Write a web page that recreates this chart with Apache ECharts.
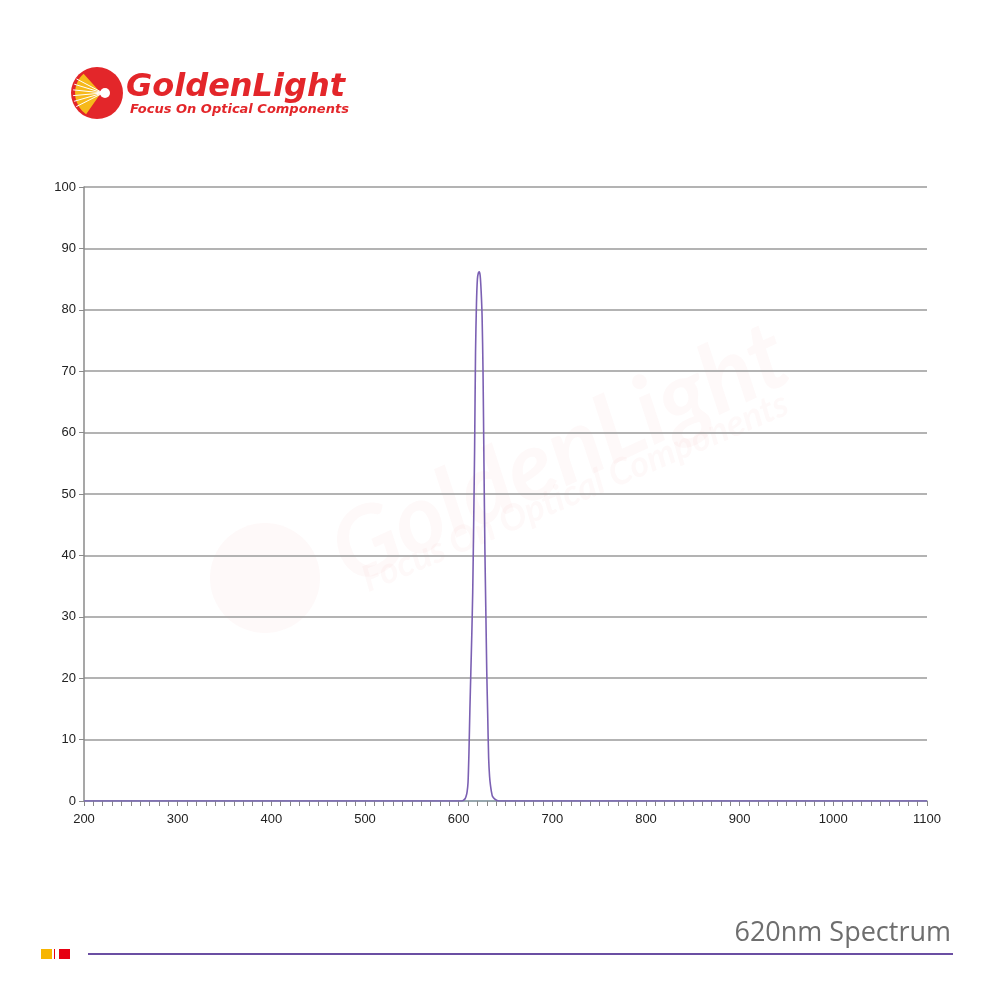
<!DOCTYPE html>
<html>
<head>
<meta charset="utf-8">
<script src="https://cdn.jsdelivr.net/npm/echarts@6/dist/echarts.min.js"></script>
<style>
html,body{margin:0;padding:0;background:#fff;}
#chart{width:1000px;height:1000px;}
</style>
</head>
<body>
<div id="chart"></div>
<script>
// Wavelength (nm) and transmission (%)
var wavelengths = [200, 300, 400, 500, 560, 590, 600, 603, 605, 607, 608, 609, 610, 611, 612, 613, 614, 615, 616, 617, 618, 619, 620, 621, 622, 623, 624, 625, 626, 627, 628, 629, 630, 631, 632, 633, 634, 635, 636, 638, 641, 645, 660, 700, 800, 900, 1000, 1100];
var transmission = [0, 0, 0, 0, 0, 0, 0, 0, 0.1, 0.4, 0.8, 1.5, 3, 8, 15, 21, 27, 34, 45, 57, 73, 81, 85, 86, 86.2, 85.5, 83, 79, 70, 55, 41, 31, 21, 14, 7, 4, 2.5, 1.5, 0.8, 0.4, 0.1, 0, 0, 0, 0, 0, 0, 0];
var xTicks = [200, 300, 400, 500, 600, 700, 800, 900, 1000, 1100];
var yTicks = [0, 10, 20, 30, 40, 50, 60, 70, 80, 90, 100];
var titleText = '620nm Spectrum';
var brandName = 'GoldenLight';
var brandSlogan = 'Focus On Optical Components';

var seriesData = wavelengths.map(function (w, i) { return [w, transmission[i]]; });

var chart = echarts.init(document.getElementById('chart'), null, {renderer: 'canvas'});

// logo rays
var rays = [];
for (var k = 0; k < 6; k++) {
  var a = (152 + k * 11) * Math.PI / 180;
  rays.push({
    type: 'line',
    shape: {x1: 103, y1: 93, x2: 103 + Math.cos(a) * 30, y2: 93 - Math.sin(a) * 30},
    style: {stroke: '#fff', lineWidth: 1},
    z: 12
  });
}

var graphics = [
  // watermark
  {type: 'circle', shape: {cx: 265, cy: 578, r: 55}, style: {fill: 'rgba(235,60,60,0.03)'}, z: 0},
  {type: 'text', x: 560, y: 455, rotation: 25 * Math.PI / 180,
    style: {text: brandName, font: 'italic bold 96px Lato', fill: 'rgba(235,50,50,0.03)', textAlign: 'center', textVerticalAlign: 'middle'}, z: 0},
  {type: 'text', x: 575, y: 492, rotation: 23 * Math.PI / 180,
    style: {text: brandSlogan, font: 'italic bold 36px Lato', fill: 'rgba(235,50,50,0.03)', textAlign: 'center', textVerticalAlign: 'middle'}, z: 0},
  // logo
  {type: 'circle', shape: {cx: 97, cy: 93, r: 26}, style: {fill: '#e3262a'}, z: 10},
  {type: 'sector', shape: {cx: 101, cy: 93, r0: 0, r: 26, startAngle: 125 * Math.PI / 180, endAngle: 228 * Math.PI / 180}, style: {fill: '#f6b91a'}, z: 11},
  {type: 'circle', shape: {cx: 105, cy: 93, r: 5}, style: {fill: '#fff'}, z: 13},
  {type: 'text', x: 126, y: 88, style: {text: brandName, font: 'oblique bold 32px "DejaVu Sans"', fill: '#e3262a', textAlign: 'left', textVerticalAlign: 'middle'}, z: 10},
  {type: 'text', x: 130, y: 110, style: {text: brandSlogan, font: 'oblique bold 13px "DejaVu Sans"', fill: '#e3262a', textAlign: 'left', textVerticalAlign: 'middle'}, z: 10},
  // footer
  {type: 'rect', shape: {x: 41, y: 949, width: 11, height: 10}, style: {fill: '#f7b500'}, z: 10},
  {type: 'rect', shape: {x: 54, y: 949, width: 1, height: 10}, style: {fill: '#e60012'}, z: 10},
  {type: 'rect', shape: {x: 59, y: 949, width: 11, height: 10}, style: {fill: '#e60012'}, z: 10},
  {type: 'line', shape: {x1: 88, y1: 954, x2: 953, y2: 954}, style: {stroke: '#6b4fa3', lineWidth: 2}, z: 10},
  {type: 'text', x: 951, y: 933, style: {text: titleText, font: '27px "Open Sans"', fill: '#6e6e6e', textAlign: 'right', textVerticalAlign: 'middle'}, z: 10}
].concat(rays);

var option = {
  backgroundColor: '#ffffff',
  animation: false,
  grid: {left: 84, right: 73, top: 187, bottom: 199, containLabel: false},
  xAxis: {
    type: 'value',
    min: 200, max: 1100, interval: 100,
    axisLine: {show: true, onZero: false, lineStyle: {color: '#8ea2ad', width: 1.5}},
    axisTick: {show: true, length: 5, lineStyle: {color: '#8a8a8a'}},
    minorTick: {show: true, splitNumber: 10, length: 5, lineStyle: {color: '#8a8a8a'}},
    axisLabel: {color: '#222', fontSize: 13, fontFamily: 'Liberation Sans', margin: 12,
      formatter: function (v) { return xTicks.indexOf(v) >= 0 ? String(v) : ''; }},
    splitLine: {show: false}
  },
  yAxis: {
    type: 'value',
    min: 0, max: 100, interval: 10,
    axisLine: {show: true, lineStyle: {color: '#8a8a8a', width: 1.5}},
    axisTick: {show: true, length: 5, lineStyle: {color: '#8a8a8a'}},
    axisLabel: {color: '#222', fontSize: 13, fontFamily: 'Liberation Sans', margin: 8,
      formatter: function (v) { return yTicks.indexOf(v) >= 0 ? String(v) : ''; }},
    splitLine: {show: true, lineStyle: {color: '#9a9a9a', width: 1.6}}
  },
  series: [{
    type: 'line',
    data: seriesData,
    showSymbol: false,
    smooth: 0.25,
    lineStyle: {color: '#7b60b3', width: 1.6},
    z: 5
  }],
  graphic: graphics
};
chart.setOption(option);
</script>
</body>
</html>
